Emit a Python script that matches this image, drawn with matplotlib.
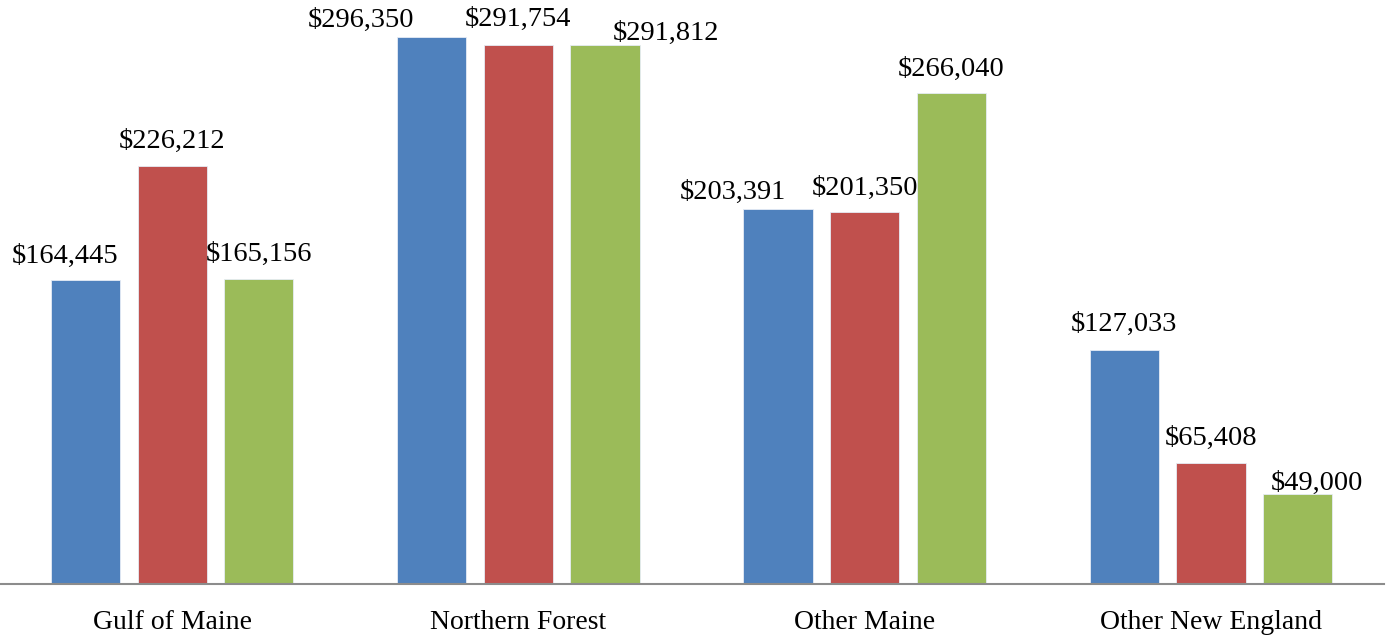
import numpy as np
import matplotlib.pyplot as plt

plt.rcParams['font.family'] = ['Liberation Serif', 'DejaVu Serif']

# --- data ---
regions = ['Gulf of Maine', 'Northern Forest', 'Other Maine', 'Other New England']
series_a = [164445, 296350, 203391, 127033]
series_b = [226212, 291754, 201350, 65408]
series_c = [165156, 291812, 266040, 49000]

colors = ['#4F81BD', '#C0504D', '#9BBB59']

# label nudges in pixels (dx, dy above bar top), per series / region
nudges = [
    [(-21, 24), (-71, 17), (-45, 16), (0, 25)],
    [(0, 25), (0, 26), (0, 24), (0, 25)],
    [(0, 25), (61, 12), (0, 24), (19, 10)],
]

fig = plt.figure(figsize=(13.9, 6.37), dpi=100)
ax = fig.add_axes([-1 / 1390, 53 / 637, 1385 / 1390, 584 / 637])

x = np.arange(len(regions))
width = 0.2
step = 0.25

for i, vals in enumerate([series_a, series_b, series_c]):
    pos = x + (i - 1) * step
    bars = ax.bar(pos, vals, width, color=colors[i], edgecolor='#e6ecf5', linewidth=0.6, zorder=2)
    for j, b in enumerate(bars):
        dx, dy = nudges[i][j]
        ax.annotate('${:,}'.format(vals[j]),
                    xy=(b.get_x() + b.get_width() / 2, b.get_height()),
                    xytext=(dx, dy), textcoords='offset pixels',
                    ha='center', va='center', fontsize=20.5, color='black')

ax.set_xlim(-0.5, 3.5)
ax.set_ylim(0, 316400)
ax.set_xticks(x)
ax.set_xticklabels(regions, fontsize=20)
ax.tick_params(axis='x', length=0, pad=19)
ax.set_yticks([])
for s in ['top', 'right', 'left']:
    ax.spines[s].set_visible(False)
ax.spines['bottom'].set_color('#8c8c8c')
ax.spines['bottom'].set_linewidth(1.5)
ax.spines['bottom'].set_zorder(3)

fig.savefig('out.png', dpi=100)
